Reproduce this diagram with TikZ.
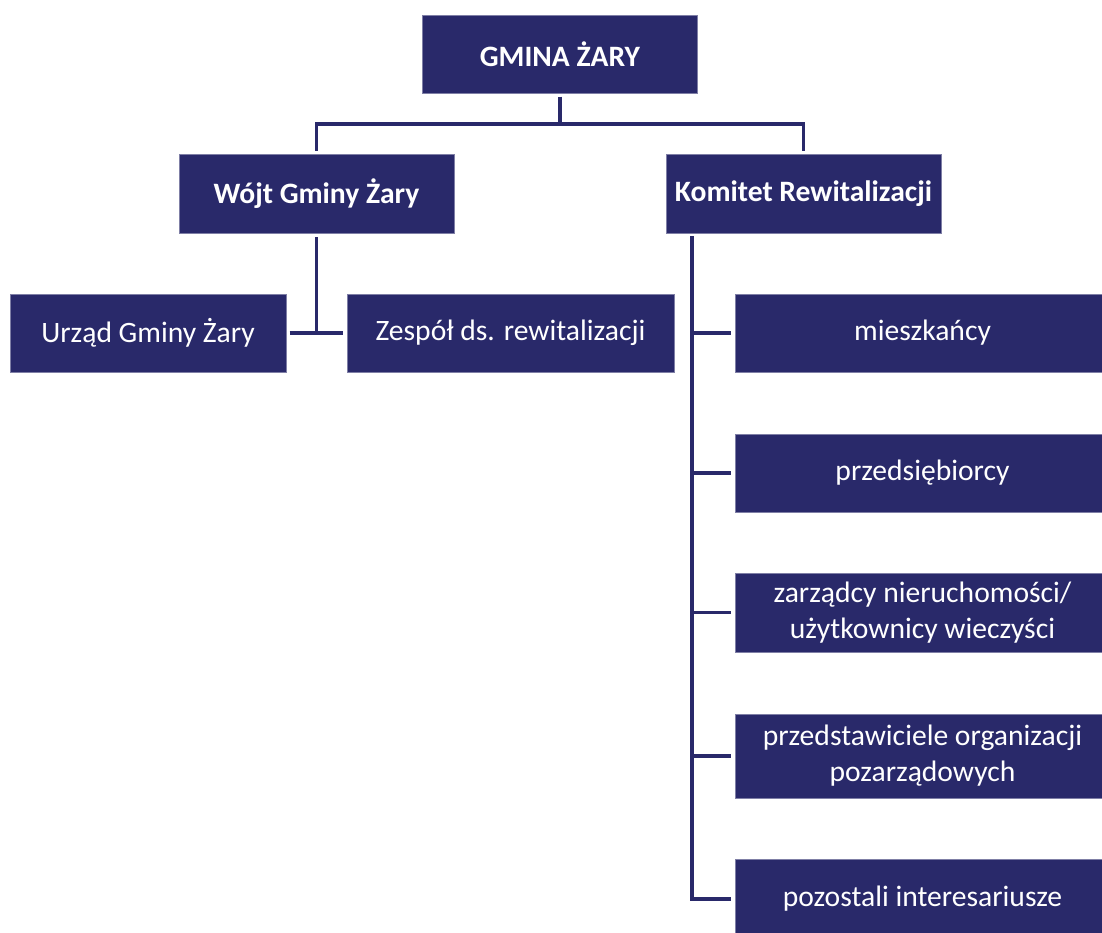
\documentclass[tikz,border=0pt]{standalone}
\usepackage{fontspec}
\setmainfont{Carlito}
\definecolor{navy}{RGB}{41,41,106}
\tikzset{
  orgbox/.style={fill=navy, draw=navy!60!white, line width=0.6pt, text=white, align=center,
    inner sep=0pt, font=\fontsize{22.2}{27}\selectfont},
  link/.style={draw=navy, line width=2.5pt, shorten <=2.5pt, shorten >=2.5pt}
}
\begin{document}
\begin{tikzpicture}[x=0.75pt, y=-0.75pt]
% Set the page size (pixels of the reference)
\useasboundingbox (0,0) rectangle (1102,932);
\clip (0,0) rectangle (1102,932);

% Draw the boxes
\node[orgbox, minimum width=275*0.75pt, minimum height=78*0.75pt] (gmina) at (560,54) {\textbf{GMINA ŻARY}};
\node[orgbox, minimum width=275*0.75pt, minimum height=79*0.75pt] (wojt) at (316.5,194) {\textbf{Wójt Gminy Żary}};
\node[orgbox, minimum width=275*0.75pt, minimum height=79*0.75pt] (komitet) at (803.5,194) {\textbf{Komitet Rewitalizacji}};
\node[orgbox, minimum width=276*0.75pt, minimum height=78*0.75pt] (urzad) at (148,333) {Urząd Gminy Żary};
\node[orgbox, minimum width=327*0.75pt, minimum height=78*0.75pt] (zespol) at (510.5,333) {Zespół ds. rewitalizacji};
\node[orgbox, minimum width=375*0.75pt, minimum height=78*0.75pt] (mieszkancy) at (922.5,333) {mieszkańcy};
\node[orgbox, minimum width=375*0.75pt, minimum height=78*0.75pt] (przedsiebiorcy) at (922.5,473) {przedsiębiorcy};
\node[orgbox, minimum width=375*0.75pt, minimum height=79*0.75pt] (zarzadcy) at (922.5,612.5) {zarządcy nieruchomości/\\użytkownicy wieczyści};
\node[orgbox, minimum width=375*0.75pt, minimum height=84*0.75pt] (ngo) at (922.5,756) {przedstawiciele organizacji\\pozarządowych};
\node[orgbox, minimum width=375*0.75pt, minimum height=80*0.75pt] (pozostali) at (922.5,899) {pozostali interesariusze};

% Draw the connectors
\coordinate (hub) at (560,124);
\coordinate (spine) at (692,236);
\draw[link, shorten >=0pt] (gmina.south) -- (hub);
\draw[link] (wojt.north) |- (hub) -| (komitet.north);
\draw[link, shorten >=0pt] (wojt.south) -- (wojt.south |- urzad.east);
\draw[link] (urzad.east) -- (zespol.west);
\draw[link, shorten <=0pt] (spine) |- (pozostali.west);
\draw[link, shorten <=0pt] (spine |- mieszkancy.west) -- (mieszkancy.west);
\draw[link, shorten <=0pt] (spine |- przedsiebiorcy.west) -- (przedsiebiorcy.west);
\draw[link, shorten <=0pt] (spine |- zarzadcy.west) -- (zarzadcy.west);
\draw[link, shorten <=0pt] (spine |- ngo.west) -- (ngo.west);
\end{tikzpicture}
\end{document}
